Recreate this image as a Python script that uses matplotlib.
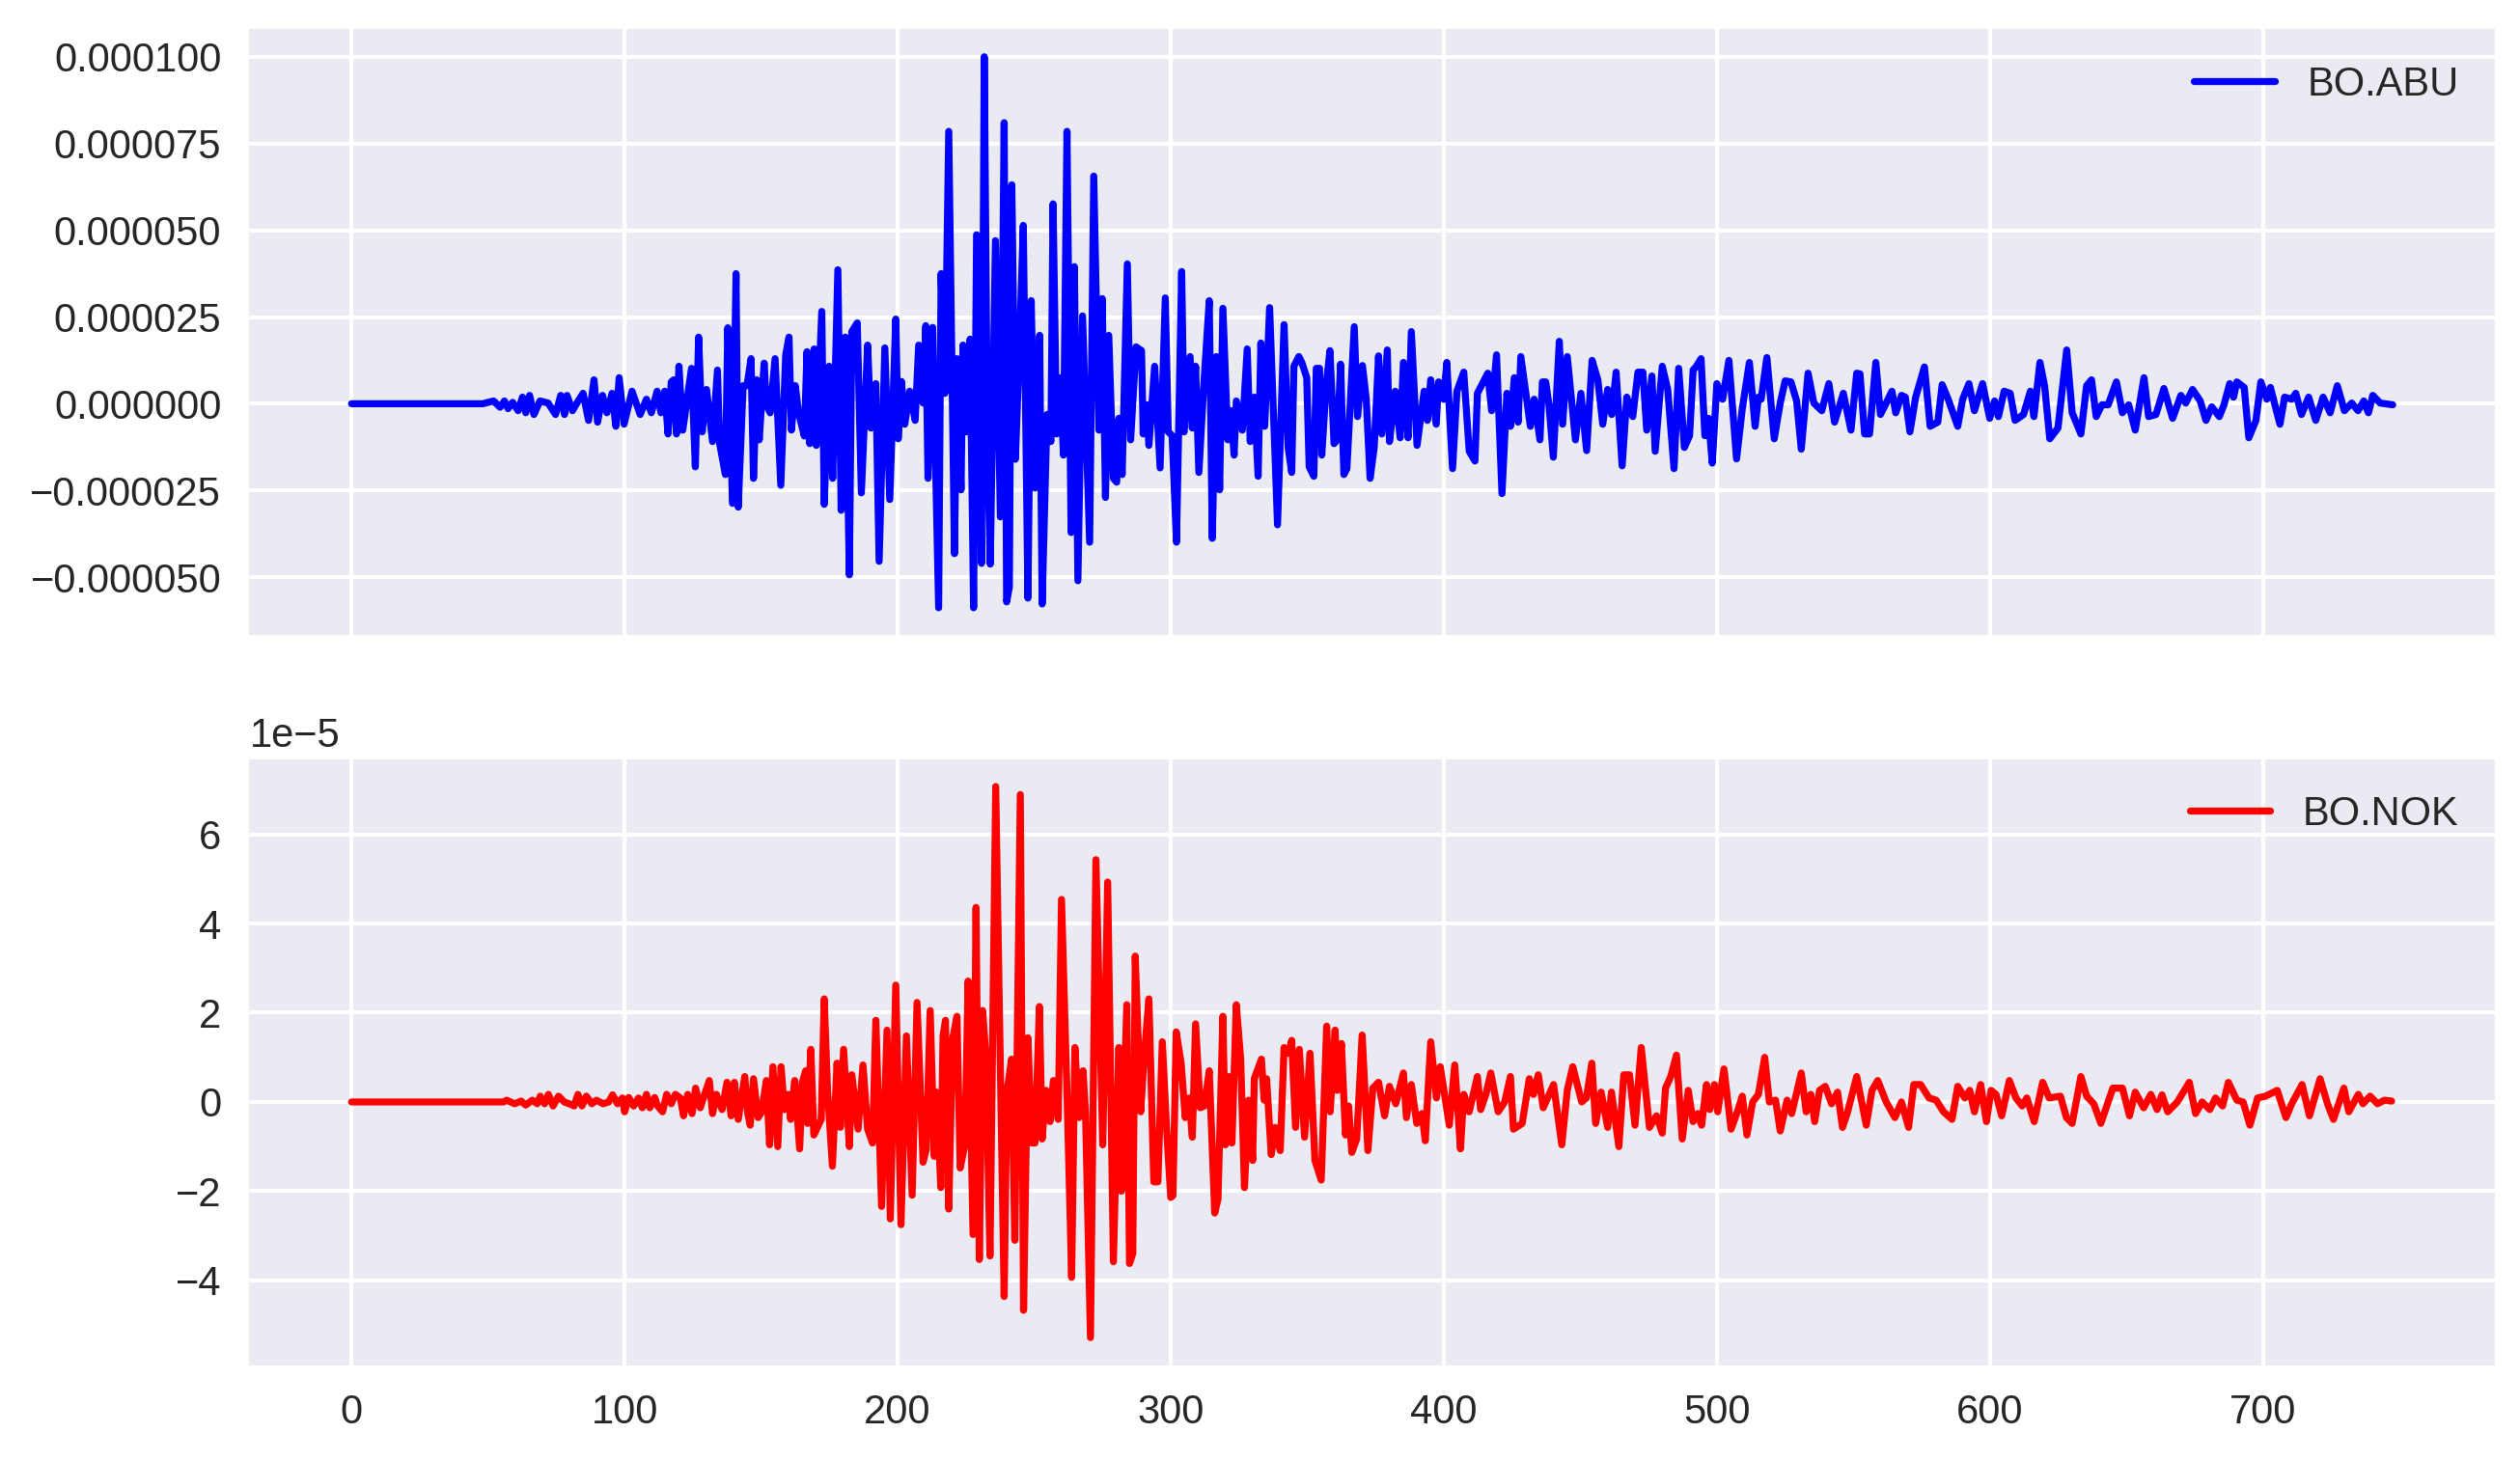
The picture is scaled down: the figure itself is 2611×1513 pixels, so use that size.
"""
Two-station seismogram comparison: BO.ABU vs BO.NOK (vertical traces).
"""

import matplotlib
matplotlib.use("Agg")
import matplotlib.pyplot as plt

# Station labels
stations = ["BO.ABU", "BO.NOK"]
colors = ["blue", "red"]

# Amplitude samples: (time [s], amplitude [1e-5])
abu_samples = [
    (0, 0), (48, 0), (52, 0.08), (54.4, -0.1), (56, 0.08), (57.3, -0.14), (59, 0.04), (61, -0.2),
    (62.6, 0.19), (63.8, -0.26), (65.2, 0.24), (66.8, -0.31), (69, 0.08), (72, 0.02), (74.7, -0.31),
    (76.6, 0.24), (78, -0.31), (78.9, 0.24), (80.9, -0.2), (83, 0.08), (84.8, 0.3), (86.8, -0.48),
    (88.8, 0.69), (90.1, -0.53), (91.9, 0.24), (93.5, -0.26), (95.4, 0.3), (96.8, -0.65), (98, 0.75),
    (99.8, -0.59), (102.7, 0.36), (105.7, -0.31), (108, 0.13), (109.8, -0.26), (111.9, 0.36),
    (113.3, -0.26), (114.7, 0.36), (115.9, -0.87), (117.1, 0.63), (118, 0.69), (119, -0.87),
    (119.9, 1.08), (121.3, -0.76), (122.7, 0.02), (124.5, 1.02), (125.9, -1.82), (127.1, 1.92),
    (128.4, -0.81), (130, 0.41), (132.2, -1.09), (134, 0.97), (134.8, -1.15), (136.9, -2.04),
    (137.8, 2.19), (138.8, -0.81), (139.5, -2.87), (140.8, 3.75), (141.6, -2.98),
    (143.4, 0.52), (144.8, 0.52), (146.3, 1.3), (147.2, -2.15), (148.4, 0.69), (149.3, -1.04),
    (151.1, 1.17), (151.9, -0.03), (153.3, -0.26), (155.1, 1.3), (157.2, -2.35), (159, 1.41),
    (160.2, 1.92), (161.1, -0.76), (162.5, 0.52), (163.7, -0.26), (165.8, -0.93), (166.8, 1.5),
    (167.8, -1.15), (169.4, 1.58), (170.2, -1.2), (172.2, 2.66), (173.1, -2.9), (174.9, 1.08),
    (176.2, -2.15), (178.1, 3.86), (179.3, -3.07), (180.8, 1.92), (182.3, -4.93), (183.2, 2.08),
    (185.2, 2.33), (186.7, -2.57), (189, 1.69), (190.2, -0.7), (192, 0.58), (193.2, -4.54),
    (195.3, 1.61), (197.1, -2.76), (199.3, 2.44), (200.2, -1.01), (201.4, 0.64), (202.6, -0.59),
    (204.4, 0.36), (206.4, -0.48), (207.7, 1.69), (209.3, 0.02), (210.3, 2.25), (211.1, -2.15),
    (212.8, 2.2), (215, -5.88), (215.9, 3.75), (217.3, 0.3), (218.7, 7.85), (220.8, -4.32),
    (221.7, 1.3), (223.2, -2.48), (223.9, 1.69), (225.2, -0.81), (226.5, 1.86), (227.8, -5.88),
    (228.9, 4.87), (229.9, -0.37), (230.7, -4.6), (231.7, 10.0), (232.9, -1.26), (233.9, -4.62),
    (235.8, 4.7), (237.6, -3.26), (239, 8.1), (239.9, -5.71), (240.9, -5.28), (241.8, 6.31),
    (243.1, -1.6), (244.4, 1.19), (246, 5.14), (247.7, -5.6), (248.9, 2.97), (250.3, -2.43),
    (252, 1.97), (252.9, -5.77), (254.7, -0.31), (256.1, -1.09), (256.9, 5.76), (258.2, -0.87),
    (259.5, 0.75), (260.7, -1.48), (262, 7.85), (263.5, -3.71), (264.7, 3.95), (266, -5.1),
    (267.7, 2.53), (270.3, -3.99), (271.8, 6.56),
    (273.7, -0.76), (274.9, 3.03), (276.1, -2.7), (277.3, 1.97), (279, -2.15), (280.2, -2.26),
    (281, -0.42), (282.2, -2.04), (284.1, 4.03), (285.3, -1.04), (287.3, 1.64), (289.3, 1.53),
    (289.9, -0.87), (291.2, -0.03), (292, -1.2), (294.1, 1.08), (296.1, -1.85), (298, 3.05),
    (299.1, -0.81), (300.5, -0.92), (302.1, -3.99), (304, 3.81), (304.9, -0.81), (307.1, 1.36),
    (307.9, -0.7), (309.1, 1.08), (310.3, -1.98), (312, 0.41), (314.1, 2.97), (315.2, -3.88),
    (316.7, 1.36), (317.9, -2.48), (319.1, 2.75), (320.9, -1.04), (322, -0.2), (323.2, -1.48),
    (324, 0.08), (326.2, -0.76), (328, 1.58), (329.1, -1.09), (330.6, 0.19), (332, -2.09),
    (333, 1.75), (334.4, -0.65), (336.2, 2.77), (339.1, -3.49), (341.5, 2.28),
    (343, -1.26), (344.3, -1.98), (345.1, 1.08), (346.9, 1.36), (348, 1.19), (349.8, 0.75),
    (350.7, -1.82), (352.4, -2.09), (353.3, 1.02), (354.5, 1.02), (355.3, -1.48), (356.9, 0.52),
    (358.3, 1.53), (359.8, -1.15), (361, -1.04), (362.2, 1.14), (363.4, -2.04), (364.5, -1.87),
    (367.2, 2.22), (368.4, -0.37), (370.2, 1.1), (371.6, 0.13), (373, -2.15), (374.5, -1.26),
    (376.1, 1.38), (377.3, -0.87), (379.3, 1.55), (380.1, -1.09), (382.2, 0.36), (384, -0.98),
    (385.2, 1.19), (386.9, -0.98), (388.1, 2.08), (390.2, -1.2), (392.8, 0.36), (394, -0.48),
    (395.2, 0.69), (397.2, -0.59), (398.1, 0.63), (399.9, 0.13), (401.1, 1.19), (403.2, -1.87),
    (404.8, 0.36), (407.3, 0.91), (409.3, -1.37), (411.4, -1.65), (412.3, 0.3), (416.1, 0.88),
    (417.5, -0.2), (419.3, 1.41), (421.3, -2.59), (423.1, 0.3), (424.4, -0.65), (425.8, 0.75),
    (427.2, -0.53), (428.2, 1.36), (431.7, -0.65), (433.1, 0.13), (435.2, -1.04), (436.1, 0.63),
    (437.3, 0.63), (438.5, -0.03), (440.1, -1.54), (442.3, 1.8), (443.5, -0.59), (445.2, 1.36),
    (448.2, -1.04), (450.2, 0.3), (452.3, -1.35), (454.3, 1.25), (456.4, 0.69), (458.2, -0.59),
    (460, 0.41), (461.5, -0.31), (463.1, 0.91), (465.3, -1.79), (467, 0.19), (469.2, -0.37),
    (471.1, 0.91), (472.9, 0.91), (474.3, -0.76), (476.2, 0.8), (477.4, -1.37), (480, 1.08),
    (482, 0.41), (484.3, -1.87), (486, 1.02), (488.1, -1.26), (490, -0.92), (491.3, 0.97),
    (492.5, 1.08), (494.2, 1.3), (495.6, -0.92), (496.9, -0.42), (498.3, -1.71), (500, 0.58),
    (502.1, 0.13), (504.4, 1.25), (507.2, -1.59), (509.3, -0.14), (511.9, 1.19), (514, -0.65),
    (515.2, 0.19), (516.2, 0.13), (518.3, 1.33), (521, -1.01), (523.2, 0.02), (525, 0.66),
    (527.1, 0.63), (529.2, 0.08), (530.9, -1.31), (533.4, 0.88), (535.5, 0.02), (538.4, -0.2),
    (541, 0.58), (543.1, -0.53), (546.3, 0.3), (549.1, -0.76), (551.2, 0.88), (552.4, 0.86),
    (554.1, -0.87), (555.9, -0.87), (558.2, 1.19), (559.9, -0.31), (561.7, -0.03), (564.1, 0.36),
    (565.5, -0.26), (567.6, 0.24), (569, 0.19), (570.7, -0.81), (572.8, 0.19), (576, 1.06),
    (578.1, -0.65), (580.9, -0.53), (582.5, 0.55), (584.7, 0.13), (588.2, -0.65), (590, 0.13),
    (592.3, 0.58), (594.3, -0.2), (597.3, 0.58), (599.9, -0.42), (601.7, 0.08), (603.1, -0.37),
    (605.2, 0.36), (607.4, 0.3), (609.2, -0.48), (612.3, -0.31), (614.8, 0.36), (616.1, -0.37),
    (618.3, 1.19), (620, 0.52), (621.9, -1.01), (624.9, -0.7), (628.1, 1.55), (630.1, -0.26),
    (633.3, -0.87), (635.4, 0.52), (637.2, 0.69), (638.9, -0.37), (641, -0.03), (643.3, -0.03),
    (646.3, 0.63), (648.5, -0.26), (650.8, -0.03), (653.2, -0.76), (656.4, 0.75), (658.1, -0.37),
    (660.8, -0.31), (663.7, 0.44), (666.9, -0.42), (669.9, 0.24), (671.7, 0.02), (674.2, 0.41),
    (677, 0.08), (679.1, -0.48), (681.2, -0.09), (684, -0.37), (685.7, -0.03), (687.8, 0.58),
    (689.2, 0.19), (690.4, 0.63), (693.1, 0.47), (694.8, -0.98), (697.4, -0.48), (699.2, 0.63),
    (701.4, 0.13), (702.7, 0.47), (706.2, -0.59), (707.9, 0.19), (710.5, 0.13), (712, 0.3),
    (714.1, -0.31), (716.7, 0.19), (719.3, -0.48), (722, 0.19), (724.6, -0.26), (727.2, 0.52),
    (729.8, -0.2), (732.5, 0.02), (734.8, -0.2), (736.9, 0.08), (738.6, -0.26), (740.2, 0.24),
    (742.9, 0.02), (745.5, -0.01), (747.5, -0.03),
]

nok_samples = [
    (0, 0), (55.6, 0), (56.8, 0.04), (59.7, -0.04), (62.1, 0.02), (63.8, -0.07), (66.2, 0.04),
    (68, -0.04), (69.1, 0.13), (70.7, -0.04), (72.1, 0.17), (73.8, -0.09), (75.8, 0.13), (77.9, 0),
    (79.7, -0.04), (81.5, -0.09), (82.9, 0.17), (84.4, -0.09), (86, 0.13), (88, -0.04), (89.7, 0.04),
    (92.1, -0.04), (94.2, 0), (95.6, 0.16), (97.4, -0.04), (99.2, 0.09), (100, -0.22), (101.5, 0.1),
    (103.3, -0.09), (105.1, 0.09), (106.5, -0.13), (108, 0.17), (109.2, -0.13), (111, 0.1),
    (112.1, -0.09), (113.9, -0.22), (115.4, 0.17), (117.1, -0.04), (118.6, 0.17), (120.4, 0.09),
    (121.6, -0.31), (123.1, 0.17), (124.7, -0.26), (126, 0.31), (127.7, -0.13), (129.3, 0.17),
    (131, 0.48), (132.2, -0.26), (133.6, 0.17), (135.7, -0.17), (137.5, 0.44), (139, -0.31),
    (140.2, 0.44), (141.6, -0.39),
    (144, 0.57), (145.1, -0.26), (146, -0.52), (147.2, 0.52), (148.9, -0.35), (150.2, -0.22),
    (151.9, 0.48), (153.1, -0.96), (154.3, 0.79), (156.1, -1.0), (157.3, 0.79), (158.5, -0.17),
    (159.9, 0.17), (160.8, -0.39), (162.3, 0.48), (164.1, -1.05), (165.1, 0.44), (166.3, 0.7),
    (167, -0.48), (168.2, 1.18), (169.3, -0.74), (172, -0.39), (173.1, 2.31), (174.3, 0.26),
    (176.1, -1.44), (177.8, 0.87), (179, -0.57), (180.2, 1.18), (182.3, -1.0), (183.2, 0.61),
    (185.5, -0.61), (187.3, 0.83), (189, -0.61), (190.8, -0.92), (192, 1.83), (194.1, -2.34),
    (196.1, 1.61), (197.3, -2.62), (199.3, 2.62), (201.2, -2.75), (203.2, 1.48), (205.3, -2.09),
    (207.1, 2.23), (209.3, -1.35), (210.5, -1.05), (211.9, 2.05),
    (213.4, -1.22), (214.2, 0.22), (215.8, -1.92), (216.6, 1.48), (217.5, 1.83), (218.7, -2.4),
    (220.1, 1.4), (221.7, 1.92), (222.9, -1.48), (224.6, -0.96), (225.8, 2.71), (227.6, -2.97),
    (228.7, 4.36), (229.9, -3.53), (231.1, 2.05), (232.3, 1.05), (233.8, -3.45), (235.9, 7.07),
    (239, -4.36), (240, 0.22), (241.7, 0.96), (242.9, -3.1), (244.9, 6.89), (246.1, -4.67),
    (247.7, 1.44), (249.1, -0.92), (250.3, -0.92), (251.9, 2.14), (252.9, -0.83), (254.3, 0.26),
    (255.8, -0.44), (257, 0.48), (258.8, -0.39), (260, 4.54), (262.1, 0), (263.7, -3.93),
    (264.9, 1.22), (266.4, -0.35), (267.9, 0.7), (268.8, -0.26), (270.6, -5.28), (272.6, 5.43),
    (275.1, -0.96), (276.9, 4.93), (279, -3.58), (281, 1.22), (281.9, -2.0), (283.9, 2.18),
    (284.9, -3.62), (286.1, -3.4), (287, 3.27), (289, -0.22), (290.2, 0.96), (292, 2.31),
    (293.8, -1.79), (295.3, -1.79), (296.9, 1.35), (298.5, -0.61), (300, -2.14), (300.8, -2.1),
    (302, 1.57), (303.8, 0.87), (305.3, -0.35), (306.7, 0.09), (307.9, -0.79), (309.1, 1.75),
    (310.8, -0.13), (312.3, -0.09), (314.1, 0.7), (316.1, -2.49), (317.3, -2.18), (319.1, 1.92),
    (320, -0.96), (321.4, 0.57), (322.4, -0.92), (324, 2.18), (325.6, 0.96), (327, -1.92),
    (328.5, 0.04), (330, -1.31), (330.6, 0.52), (333.2, 0.96), (334.2, 0.04), (335.1, 0.52),
    (336.8, -1.18), (338.2, -0.57), (340.1, -1.09), (341.5, 1.22),
    (343.1, 1.09), (344.3, 1.38), (345.7, -0.57), (347.1, 1.18), (349, -0.79), (351, 1.09),
    (352.8, -1.31), (355.1, -1.75), (357.1, 1.7), (358.4, -0.22), (360.2, 1.61), (361, 0.26),
    (362.5, 1.31), (364, -0.74), (365.1, -0.09), (366.3, -1.13), (368.1, -0.83), (370.1, 1.5),
    (372.2, -1.09), (374, 0.31), (376.1, 0.44), (378.3, -0.31), (380.1, 0.35), (382.4, -0.04),
    (385.2, 0.65), (386.3, -0.35), (388.1, 0.39), (390.1, -0.48), (392, -0.26), (393.2, -0.87),
    (395.2, 1.35), (397.3, 0.09), (398.7, 0.79), (402, -0.52), (404, 0.83), (406.1, -1.05),
    (407.3, 0.17), (409.3, -0.22), (412.3, 0.57), (413.5, -0.17), (415.4, 0.17), (417.2, 0.65),
    (419.9, -0.22), (422.3, 0), (424.4, 0.57), (425.5, -0.61), (428.7, -0.48), (431.3, 0.52),
    (432.8, 0.17), (434.6, 0.61), (436.4, -0.13), (440.2, 0.39), (443.2, -0.96), (445.2, 0.26),
    (447.2, 0.79), (450.5, 0), (452.2, 0.09), (454.2, 0.87), (455.6, -0.48), (457.6, 0.22),
    (460, -0.57), (461.4, 0.22), (464.1, -1.0), (465.9, 0.61), (468, 0.61), (470, -0.52),
    (472.3, 1.22), (475.3, -0.57), (477.9, -0.31), (480, -0.7), (481.2, 0.31),
    (483.1, 0.57), (485.2, 1.05), (487.3, -0.83), (489.5, 0.26), (491.3, -0.44), (493, -0.26),
    (494.4, -0.52), (496.2, 0.39), (497.4, -0.17), (499.1, 0.39), (500.3, -0.22), (502.6, 0.74),
    (505.2, -0.61), (507.5, -0.22), (509.3, 0.13), (511, -0.74), (513.1, 0), (515.2, 0.17),
    (517.5, 1.0), (519.2, 0), (521.5, 0.04), (523.2, -0.65), (525.7, 0.04), (527.4, -0.26),
    (530.9, 0.65), (532.7, -0.22), (534.4, 0.17), (535.8, -0.44), (537.6, 0.26), (539.7, 0.35),
    (542, -0.04), (544.2, 0.22), (546, -0.57), (547.7, -0.26), (551.2, 0.57), (554.7, -0.52),
    (556.8, 0.26), (558.9, 0.48), (562, 0), (565.2, -0.35), (567.6, 0), (570.2, -0.57),
    (572.1, 0.39), (574.6, 0.39), (577.7, 0.09), (580.3, 0.04), (583, -0.22), (586.1, -0.39),
    (588.2, 0.35), (590.8, 0.09), (592.6, 0.26), (594.3, -0.22), (596.6, 0.39), (598.7, -0.44),
    (600.4, 0.26), (602.2, 0.17), (604.3, -0.31), (607.1, 0.48), (609.5, 0.09), (611.8, -0.09),
    (613.5, 0.09), (616.2, -0.44), (619.3, 0.44), (621.7, 0.09), (625.8, 0.13), (628, -0.35),
    (630.1, -0.48), (633.3, 0.57), (635.4, 0.13), (638, -0.04), (640.6, -0.48), (645, 0.31),
    (648.5, 0.31), (651.1, -0.31), (653.2, 0.22), (656.3, -0.13), (658.9, 0.17), (661.2, -0.17),
    (663, 0.16), (665.1, -0.22), (668.6, 0), (673, 0.44), (675.3, -0.26), (677.7, 0),
    (680.5, -0.17), (682.6, 0.09), (685.2, -0.09), (687.3, 0.44), (690.4, 0.04), (692.7, 0),
    (695.2, -0.52), (698, 0.09), (700.9, 0.13), (705.2, 0.26), (708.4, -0.35), (710.5, -0.04),
    (714.3, 0.39), (717, -0.31), (720.9, 0.52), (723.6, -0.04), (725.8, -0.39), (729.6, 0.31),
    (731.4, -0.22), (734.9, 0.17), (736.6, -0.04), (739.2, 0.13), (741.9, -0.04), (744.5, 0.04),
    (747.1, 0.02),
]

AMP_UNIT = 1e-5


def split(samples):
    t = [s[0] for s in samples]
    a = [s[1] * AMP_UNIT for s in samples]
    return t, a


plt.style.use("seaborn-v0_8")
plt.rcParams["font.family"] = ["Liberation Sans", "DejaVu Sans"]

fig, axes = plt.subplots(2, 1, figsize=(2611 / 300, 1513 / 300), sharex=True)
fig.subplots_adjust(left=0.099, right=0.99, top=0.98, bottom=0.065, hspace=0.204)

for ax, samples, name, col in zip(axes, [abu_samples, nok_samples], stations, colors):
    t, a = split(samples)
    ax.plot(t, a, color=col, label=name)
    ax.legend(loc="upper right")

# le panneau du haut garde l'écriture décimale complète
axes[0].ticklabel_format(axis="y", style="plain")

fig.savefig("out.png", dpi=300)
